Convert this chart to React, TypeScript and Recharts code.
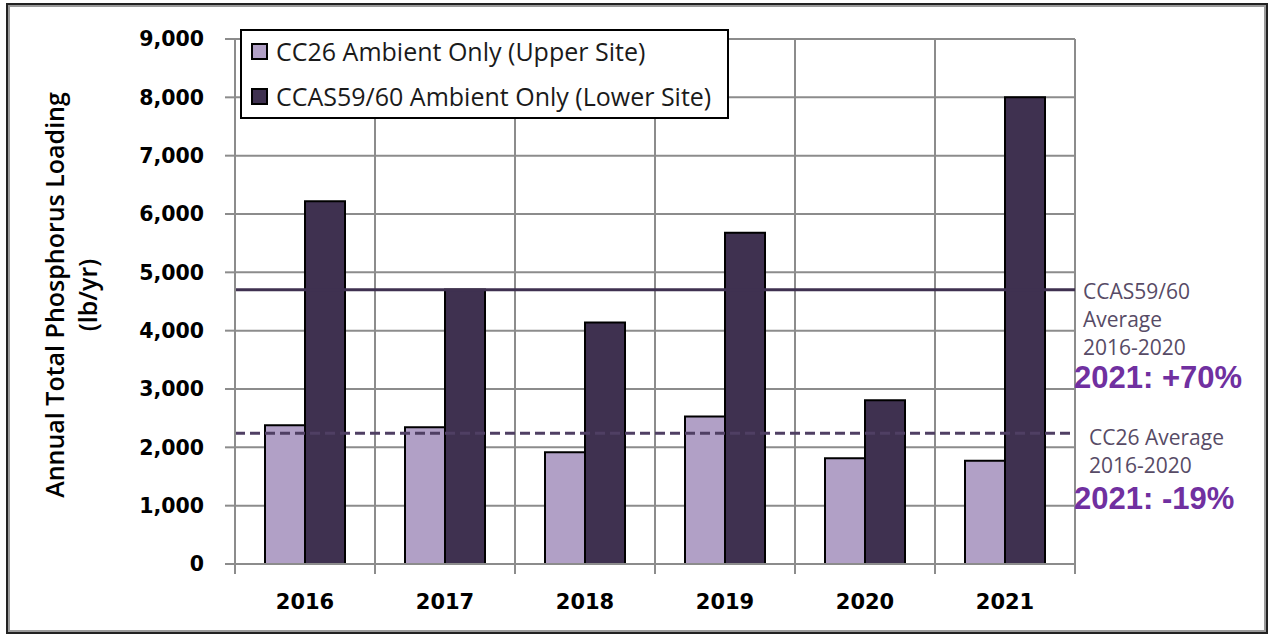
import React from "react";
import {
  BarChart,
  Bar,
  XAxis,
  YAxis,
  CartesianGrid,
  ReferenceLine,
} from "recharts";

const years = ["2016", "2017", "2018", "2019", "2020", "2021"];
const cc26 = [2380, 2345, 1915, 2530, 1815, 1770];
const ccas = [6220, 4705, 4140, 5680, 2806, 8000];
const yTicks = [0, 1000, 2000, 3000, 4000, 5000, 6000, 7000, 8000, 9000];
const ccasAverage = 4700;
const cc26Average = 2240;
const seriesNames = ["CC26 Ambient Only (Upper Site)", "CCAS59/60 Ambient Only (Lower Site)"];

const data = years.map((y, i) => ({ year: y, cc26: cc26[i], ccas: ccas[i] }));

const LIGHT = "#b1a0c6";
const DARK = "#3f3150";
const GRID = "#8c8c8c";

const fmt = (v: number) => v.toLocaleString("en-US");

const XTick = (props: any) => {
  const { x, y, payload, index, width } = props;
  const step = width / years.length;
  const left = x - step / 2;
  return (
    <g>
      <line x1={left} x2={left} y1={y - 8} y2={y + 2} stroke={GRID} strokeWidth={2} />
      {index === years.length - 1 && (
        <line x1={x + step / 2} x2={x + step / 2} y1={y - 8} y2={y + 2} stroke={GRID} strokeWidth={2} />
      )}
      <text
        x={x}
        y={y + 37}
        textAnchor="middle"
        fontFamily="DejaVu Sans"
        fontWeight="bold"
        fontSize={21}
        fill="#000"
      >
        {payload.value}
      </text>
    </g>
  );
};

const LegendBox = () => (
  <div
    style={{
      position: "absolute",
      left: 240,
      top: 29,
      width: 485,
      height: 86,
      border: "2px solid #000",
      background: "#fff",
      boxSizing: "content-box",
      fontFamily: "Open Sans",
      fontSize: 25,
      color: "#1a1a1a",
    }}
  >
    {seriesNames.map((name, i) => (
      <div
        key={name}
        style={{
          position: "absolute",
          left: 9,
          top: i === 0 ? 3 : 48,
          display: "flex",
          alignItems: "center",
          whiteSpace: "nowrap",
          lineHeight: "34px",
        }}
      >
        <span
          style={{
            display: "inline-block",
            width: 13,
            height: 13,
            border: "2px solid #000",
            background: i === 0 ? LIGHT : DARK,
            marginRight: 8,
          }}
        />
        <span>{name}</span>
      </div>
    ))}
  </div>
);

export default function App() {
  return (
    <div style={{ position: "absolute", left: 0, top: 0, width: 1273, height: 638, background: "#fff" }}>
      <div
        style={{
          position: "absolute",
          left: 6,
          top: 3,
          width: 1262,
          height: 631,
          border: "2px solid #222",
          boxShadow: "inset 0 0 0 2px #9a9a9a",
          boxSizing: "border-box",
        }}
      />
      <div style={{ position: "absolute", left: 0, top: 0 }}>
        <BarChart
          width={1273}
          height={638}
          data={data}
          margin={{ top: 39, right: 198, bottom: 0, left: 0 }}
          barGap={0}
          barCategoryGap={30}
        >
          <CartesianGrid
            stroke={GRID}
            strokeWidth={2}
            verticalCoordinatesGenerator={({ offset }: any) =>
              Array.from({ length: years.length + 1 }, (_, i) => offset.left + (i * offset.width) / years.length)
            }
          />
          <XAxis
            dataKey="year"
            height={74}
            axisLine={{ stroke: GRID, strokeWidth: 2 }}
            tickLine={false}
            tick={<XTick />}
            interval={0}
          />
          <YAxis
            width={235}
            domain={[0, 9000]}
            ticks={yTicks}
            tickFormatter={fmt}
            axisLine={{ stroke: GRID, strokeWidth: 2 }}
            tickLine={{ stroke: GRID, strokeWidth: 2 }}
            tickSize={10}
            tickMargin={21}
            tick={{ fontFamily: "DejaVu Sans", fontWeight: "bold", fontSize: 20.5, fill: "#000" }}
            allowDataOverflow
          />
          <Bar dataKey="cc26" fill={LIGHT} stroke="#000" strokeWidth={2} barSize={40} isAnimationActive={false} />
          <Bar dataKey="ccas" fill={DARK} stroke="#000" strokeWidth={2} barSize={40} isAnimationActive={false} />
          <ReferenceLine y={ccasAverage} stroke="#3f3150" strokeWidth={3} />
          <ReferenceLine y={cc26Average} stroke="#4f3f63" strokeWidth={3} strokeDasharray="10 5" />
        </BarChart>
      </div>
      <LegendBox />
      <div
        style={{
          position: "absolute",
          left: 71,
          top: 295,
          transform: "translate(-50%, -50%) rotate(-90deg)",
          fontFamily: "Open Sans",
          fontWeight: 600,
          fontSize: 25,
          lineHeight: "33px",
          textAlign: "center",
          whiteSpace: "nowrap",
          color: "#000",
        }}
      >
        Annual Total Phosphorus Loading
        <br />
        (lb/yr)
      </div>
      <div
        style={{
          position: "absolute",
          left: 1083,
          top: 277,
          fontFamily: "Open Sans",
          fontSize: 21,
          lineHeight: "28px",
          color: "#574b66",
          whiteSpace: "nowrap",
        }}
      >
        CCAS59/60
        <br />
        Average
        <br />
        2016-2020
      </div>
      <div
        style={{
          position: "absolute",
          left: 1089,
          top: 423,
          fontFamily: "Open Sans",
          fontSize: 21,
          lineHeight: "28px",
          color: "#574b66",
          whiteSpace: "nowrap",
        }}
      >
        CC26 Average
        <br />
        2016-2020
      </div>
      <div
        style={{
          position: "absolute",
          left: 1074,
          top: 360,
          fontFamily: "Liberation Sans",
          fontWeight: "bold",
          fontSize: 31,
          lineHeight: "36px",
          color: "#7030a0",
          whiteSpace: "nowrap",
        }}
      >
        2021: +70%
      </div>
      <div
        style={{
          position: "absolute",
          left: 1074,
          top: 481,
          fontFamily: "Liberation Sans",
          fontWeight: "bold",
          fontSize: 31,
          lineHeight: "36px",
          color: "#7030a0",
          whiteSpace: "nowrap",
        }}
      >
        2021: -19%
      </div>
    </div>
  );
}
